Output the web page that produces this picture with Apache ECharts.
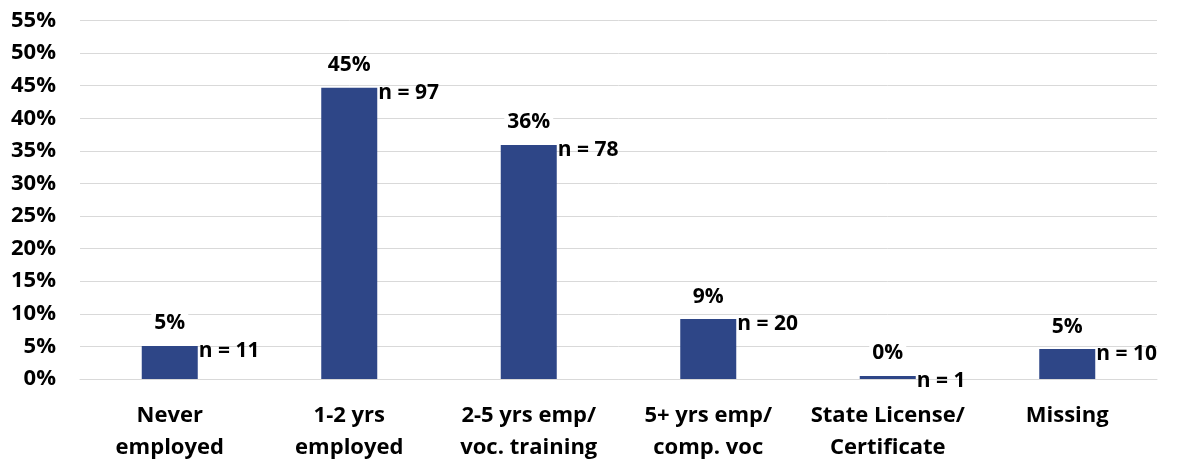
<!DOCTYPE html>
<html>
<head>
<meta charset="utf-8">
<script src="https://cdn.jsdelivr.net/npm/echarts@6/dist/echarts.min.js"></script>
<style>
html,body{margin:0;padding:0;background:#fff;}
#chart{width:1180px;height:461px;}
</style>
</head>
<body>
<div id="chart"></div>
<script>
var categories = ['Never\nemployed', '1-2 yrs\nemployed', '2-5 yrs emp/\nvoc. training', '5+ yrs emp/\ncomp. voc', 'State License/\nCertificate', 'Missing'];
var pctValues = [5.07, 44.7, 35.9, 9.2, 0.46, 4.6];
var nValues = [11, 97, 78, 20, 1, 10];

var FONT = '"Open Sans", Lato, sans-serif';
var chart = echarts.init(document.getElementById('chart'));
chart.setOption({
  backgroundColor: '#fff',
  animation: false,
  grid: {left: 80, right: 23, top: 20.5, bottom: 82, containLabel: false, outerBoundsMode: 'none'},
  xAxis: {
    type: 'category',
    data: categories,
    axisLine: {show: true, lineStyle: {color: '#D9D9D9', width: 1}},
    axisTick: {show: false},
    axisLabel: {
      interval: 0, margin: 21, color: '#000', fontFamily: FONT, fontWeight: 'bold',
      fontSize: 22, lineHeight: 32
    }
  },
  yAxis: {
    type: 'value', min: 0, max: 55, interval: 5,
    axisLine: {show: false}, axisTick: {show: false},
    splitLine: {lineStyle: {color: '#D9D9D9', width: 1}},
    axisLabel: {formatter: '{value}%', margin: 24, color: '#000', fontFamily: FONT, fontWeight: 'bold', fontSize: 22}
  },
  series: [{
    type: 'bar',
    data: pctValues,
    barWidth: 56,
    itemStyle: {color: '#2E4687'},
    label: {
      show: true, position: 'top', distance: 12,
      formatter: function (p) { return Math.round(p.value) + '%'; },
      color: '#000', fontFamily: FONT, fontWeight: 'bold', fontSize: 21,
      backgroundColor: '#fff', padding: [0, 3]
    },
    z: 3
  }, {
    type: 'bar',
    data: pctValues,
    barWidth: 56,
    barGap: '-100%',
    itemStyle: {color: 'rgba(0,0,0,0)'},
    label: {
      show: true, position: ['100%', 0], offset: [1, 5],
      align: 'left', verticalAlign: 'middle',
      formatter: function (p) { return 'n = ' + nValues[p.dataIndex]; },
      color: '#000', fontFamily: FONT, fontWeight: 'bold', fontSize: 21
    },
    z: 4
  }]
});
</script>
</body>
</html>
